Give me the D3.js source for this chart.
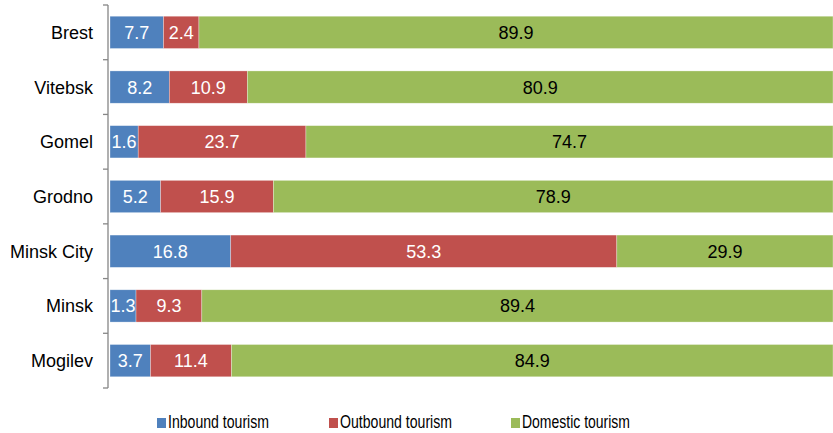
<!DOCTYPE html>
<html>
<head>
<meta charset="utf-8">
<script src="https://cdn.jsdelivr.net/npm/d3@7"></script>
<style>
	body { margin: 0; background: #fff; }
	svg { font-family: "Liberation Sans", Arial, sans-serif; }
</style>
</head>
<body>
<div id="chart"></div>
<script>
const regions = ["Brest", "Vitebsk", "Gomel", "Grodno", "Minsk City", "Minsk", "Mogilev"];
// printed values
const inboundLabel = [7.7, 8.2, 1.6, 5.2, 16.8, 1.3, 3.7];
const outboundLabel = [2.4, 10.9, 23.7, 15.9, 53.3, 9.3, 11.4];
const domesticLabel = [89.9, 80.9, 74.7, 78.9, 29.9, 89.4, 84.9];
// segment lengths as drawn (share of the bar, %)
const inboundShare = [7.4, 8.2, 3.9, 7.0, 16.7, 3.6, 5.6];
const outboundShare = [4.9, 10.8, 23.2, 15.6, 53.4, 9.1, 11.2];
const domesticShare = [87.7, 81.0, 72.9, 77.4, 29.9, 87.3, 83.2];
const seriesNames = ["Inbound tourism", "Outbound tourism", "Domestic tourism"];
const colors = ["#4F81BD", "#C0504D", "#9BBB59"];
const labelColors = ["#fff", "#fff", "#000"];

const width = 833, height = 433;
const margin = { top: 5, right: 0, bottom: 45, left: 108 };

const keys = ["inbound", "outbound", "domestic"];
const labels = { inbound: inboundLabel, outbound: outboundLabel, domestic: domesticLabel };
const rows = regions.map((r, i) => ({
	region: r, i,
	inbound: inboundShare[i], outbound: outboundShare[i], domestic: domesticShare[i],
}));
const stacked = d3.stack().keys(keys)(rows);

const svg = d3.select("#chart").append("svg")
	.attr("width", width)
	.attr("height", height);

const x = d3.scaleLinear().domain([0, 100]).range([margin.left + 2, width]);
const y = d3.scaleBand().domain(regions).range([margin.top, height - margin.bottom]).paddingInner(0.41).paddingOuter(0.205);

// bars
const groups = svg.selectAll("g.series")
	.data(stacked)
	.enter()
	.append("g")
	.attr("class", "series");

groups.selectAll("rect")
	.data((s) => s.map((d) => ({ d, key: s.key, idx: s.index })))
	.enter()
	.append("rect")
	.attr("x", (o) => x(o.d[0]))
	.attr("y", (o) => y(o.d.data.region))
	.attr("width", (o) => x(o.d[1]) - x(o.d[0]))
	.attr("height", y.bandwidth())
	.attr("fill", (o) => colors[o.idx])
	.attr("stroke", "#fff")
	.attr("stroke-opacity", 0.5)
	.attr("stroke-width", 0.6);

// value labels
groups.selectAll("text")
	.data((s) => s.map((d) => ({ d, key: s.key, idx: s.index })))
	.enter()
	.append("text")
	.attr("x", (o) => (x(o.d[0]) + x(o.d[1])) / 2)
	.attr("y", (o) => y(o.d.data.region) + y.bandwidth() / 2)
	.attr("dy", "0.36em")
	.attr("text-anchor", "middle")
	.attr("font-size", 18)
	.attr("fill", (o) => labelColors[o.idx])
	.text((o) => labels[o.key][o.d.data.i].toFixed(1));

// y axis, ticks between categories
const axisX = margin.left;
const axisG = svg.append("g");
axisG.append("line")
	.attr("x1", axisX).attr("x2", axisX)
	.attr("y1", margin.top).attr("y2", height - margin.bottom)
	.attr("stroke", "#868686").attr("stroke-width", 1.3);

const step = y.step();
const tickYs = d3.range(regions.length + 1).map((i) => margin.top + i * step);
axisG.selectAll("line.tick")
	.data(tickYs)
	.enter()
	.append("line")
	.attr("class", "tick")
	.attr("x1", axisX - 5).attr("x2", axisX)
	.attr("y1", (d) => d).attr("y2", (d) => d)
	.attr("stroke", "#868686").attr("stroke-width", 1.3);

axisG.selectAll("text")
	.data(regions)
	.enter()
	.append("text")
	.attr("x", axisX - 15)
	.attr("y", (d) => y(d) + y.bandwidth() / 2)
	.attr("dy", "0.36em")
	.attr("text-anchor", "end")
	.attr("font-size", 18)
	.attr("fill", "#000")
	.text((d) => d);

// legend
const legendX = [157, 329, 511];
const legendW = [101, 112, 108];
const legend = svg.append("g");
seriesNames.forEach((name, i) => {
	legend.append("rect")
		.attr("x", legendX[i]).attr("y", 418)
		.attr("width", 9).attr("height", 10)
		.attr("fill", colors[i]);
	legend.append("text")
		.attr("x", legendX[i] + 11).attr("y", 428)
		.attr("font-size", 17.5)
		.attr("textLength", legendW[i])
		.attr("lengthAdjust", "spacingAndGlyphs")
		.attr("fill", "#000")
		.text(name);
});
</script>
</body>
</html>
